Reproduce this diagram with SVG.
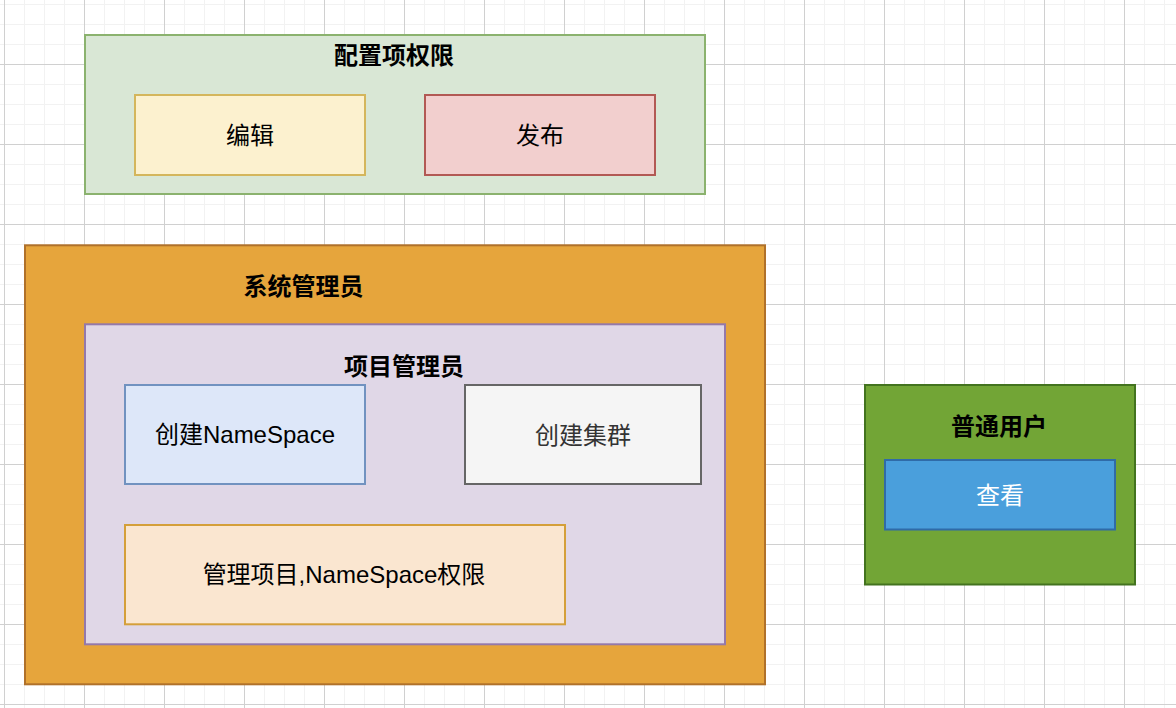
<svg xmlns="http://www.w3.org/2000/svg" width="1176" height="708" viewBox="0 0 1176 708">
  <style>
    text { font-family: "Liberation Sans", "Noto Sans CJK SC", sans-serif; font-size: 24px; text-anchor: middle; fill: #000; }
    .title { font-weight: bold; }
    rect.box { stroke-width: 2; }
  </style>
  <defs>
    <pattern id="grid" patternUnits="userSpaceOnUse" x="4" y="64" width="80" height="80">
      <rect x="0" y="0" width="80" height="80" fill="#ffffff"/>
      <g fill="#f2f2f2">
        <rect x="20" y="0" width="1" height="80"/>
        <rect x="40" y="0" width="1" height="80"/>
        <rect x="60" y="0" width="1" height="80"/>
        <rect x="0" y="20" width="80" height="1"/>
        <rect x="0" y="40" width="80" height="1"/>
        <rect x="0" y="60" width="80" height="1"/>
      </g>
      <g fill="#d0d0d0">
        <rect x="0" y="0" width="1" height="80"/>
        <rect x="0" y="0" width="80" height="1"/>
      </g>
    </pattern>
  </defs>
  <rect x="0" y="0" width="1176" height="708" fill="url(#grid)"/>

  <g id="config-permissions">
    <rect class="box" x="85" y="35" width="620" height="159" fill="#d9e7d5" stroke="#8bb26e"/>
    <text class="title" x="394" y="64">配置项权限</text>
  </g>
  <g id="edit">
    <rect class="box" x="135" y="95" width="230" height="80" fill="#fcf1cf" stroke="#d4b65c"/>
    <text x="250" y="144">编辑</text>
  </g>
  <g id="publish">
    <rect class="box" x="425" y="95" width="230" height="80" fill="#f2cfce" stroke="#b25954"/>
    <text x="540" y="144">发布</text>
  </g>

  <g id="system-admin">
    <rect class="box" x="25" y="245.3" width="740" height="439" fill="#e6a53c" stroke="#b0712a"/>
    <text class="title" x="303.5" y="294.5">系统管理员</text>
  </g>
  <g id="project-admin">
    <rect class="box" x="85" y="324.3" width="640" height="320" fill="#e0d7e7" stroke="#9479aa"/>
    <text class="title" x="404" y="375">项目管理员</text>
  </g>
  <g id="create-namespace">
    <rect class="box" x="125" y="385" width="240" height="99" fill="#dde7f9" stroke="#7192c0"/>
    <text x="245" y="443">创建NameSpace</text>
  </g>
  <g id="create-cluster">
    <rect class="box" x="465" y="385" width="236" height="99" fill="#f5f5f5" stroke="#666666"/>
    <text x="583" y="444" style="fill:#333333">创建集群</text>
  </g>
  <g id="manage-project">
    <rect class="box" x="125" y="525" width="440" height="99.3" fill="#fae6d0" stroke="#d49f3a"/>
    <text x="344" y="583.3">管理项目,NameSpace权限</text>
  </g>

  <g id="normal-user">
    <rect class="box" x="865" y="385" width="270" height="199.5" fill="#72a536" stroke="#43731f"/>
    <text class="title" x="999" y="435">普通用户</text>
  </g>
  <g id="view">
    <rect class="box" x="885" y="460" width="230" height="69.5" fill="#4a9fdc" stroke="#2f6ba8"/>
    <text x="1000" y="504" style="fill:#ffffff">查看</text>
  </g>

  <g id="connectors"></g>
</svg>
